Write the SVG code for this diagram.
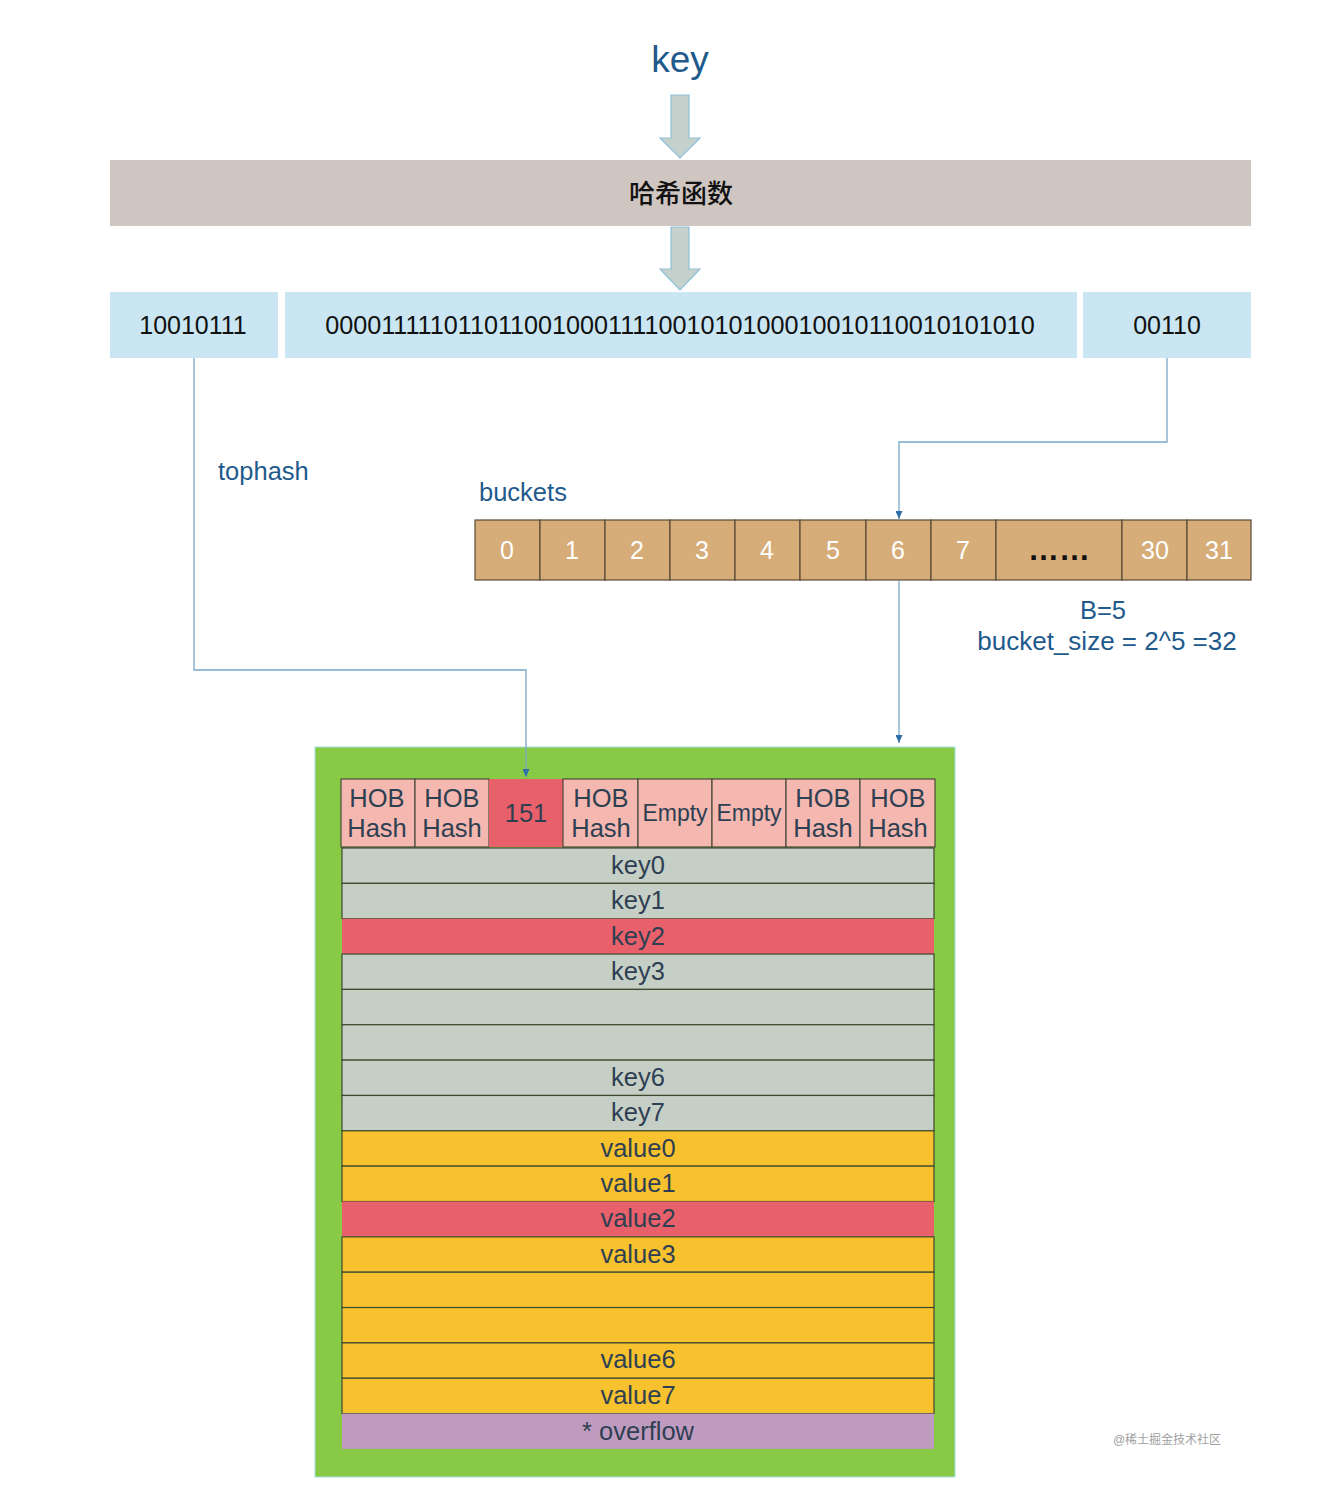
<svg xmlns="http://www.w3.org/2000/svg" width="1326" height="1508" viewBox="0 0 1326 1508">
<style>
text{font-family:"Liberation Sans",Arial,sans-serif;}
.t{font-size:25.5px;text-anchor:middle;fill:#2f3f52;}
.blk{font-size:25px;text-anchor:middle;fill:#111;}
.wh{font-size:25px;text-anchor:middle;fill:#fff;}
.lbl{font-size:25.5px;fill:#1f5a8c;}
.bin{fill:#c9e6f2;}
.bk{fill:#d6ad78;stroke:#5a4a38;stroke-width:1.2;}
.hob{fill:#f4b8b0;stroke:#4a4a3a;stroke-width:1.2;}
.row{stroke:#3d4a30;stroke-width:1.2;}
.grey{fill:#c5cfc6;}
.yel{fill:#f7c22d;}
.red{fill:#e8606a;}
.con{fill:none;stroke:#7aa8c8;stroke-width:1.3;}
.barr{fill:#c5d1cc;stroke:#8dc0d8;stroke-width:1.2;}
</style>
<defs>
<marker id="tri" markerWidth="8" markerHeight="7" refX="8" refY="3.5" orient="auto" markerUnits="userSpaceOnUse"><path d="M0,0 L8,3.5 L0,7 Z" fill="#2f6fa5"/></marker>
</defs>
<rect width="1326" height="1508" fill="#fff"/>

<g id="key-label"><text x="680" y="72" style="font-size:37px;text-anchor:middle;fill:#1f5a8c;">key</text></g>

<g id="arrow1"><path class="barr" d="M671,95 L689,95 L689,138 L700,138 L680,158 L660,138 L671,138 Z"/></g>

<g id="hash-func"><rect x="110" y="160" width="1141" height="66" fill="#cfc6c1"/><text class="blk" x="681" y="203" style="font-size:26px;font-family:'Noto Sans CJK SC',sans-serif;font-weight:500;">哈希函数</text></g>

<g id="arrow2"><path class="barr" d="M671,227 L689,227 L689,269 L700,269 L680,290 L660,269 L671,269 Z"/></g>

<g id="bin-top"><rect class="bin" x="110" y="292" width="168" height="66"/><text class="blk" x="193" y="334">10010111</text></g>
<g id="bin-mid"><rect class="bin" x="285" y="292" width="792" height="66"/><text class="blk" x="680" y="334" style="font-size:25.2px">0000111110110110010001111001010100010010110010101010</text></g>
<g id="bin-low"><rect class="bin" x="1083" y="292" width="168" height="66"/><text class="blk" x="1167" y="334">00110</text></g>

<g id="tophash-label"><text class="lbl" x="218" y="480">tophash</text></g>
<g id="buckets-label"><text class="lbl" x="479" y="501">buckets</text></g>
<g id="b-label"><text class="lbl" x="1103" y="619" text-anchor="middle">B=5</text><text class="lbl" x="1107" y="650" text-anchor="middle" style="font-size:26px">bucket_size = 2^5 =32</text></g>

<g id="buckets">
<rect class="bk" x="475" y="520" width="65" height="60"/><text class="wh" x="507" y="559">0</text>
<rect class="bk" x="540" y="520" width="65" height="60"/><text class="wh" x="572" y="559">1</text>
<rect class="bk" x="605" y="520" width="65" height="60"/><text class="wh" x="637" y="559">2</text>
<rect class="bk" x="670" y="520" width="65" height="60"/><text class="wh" x="702" y="559">3</text>
<rect class="bk" x="735" y="520" width="65" height="60"/><text class="wh" x="767" y="559">4</text>
<rect class="bk" x="800" y="520" width="66" height="60"/><text class="wh" x="833" y="559">5</text>
<rect class="bk" x="866" y="520" width="65" height="60"/><text class="wh" x="898" y="559">6</text>
<rect class="bk" x="931" y="520" width="65" height="60"/><text class="wh" x="963" y="559">7</text>
<rect class="bk" x="996" y="520" width="126" height="60"/><text class="blk" x="1059" y="560" style="font-size:31px;font-weight:bold;">……</text>
<rect class="bk" x="1122" y="520" width="65" height="60"/><text class="wh" x="1155" y="559">30</text>
<rect class="bk" x="1187" y="520" width="64" height="60"/><text class="wh" x="1219" y="559">31</text>
</g>

<g id="bucket-struct">
<rect x="315" y="747" width="640" height="730" fill="#88c946" stroke="#9fe0e8" stroke-width="1"/>
<g id="tophash-row">
<rect class="hob" x="341" y="779" width="74" height="68"/><text class="t" x="377" y="807">HOB</text><text class="t" x="377" y="837">Hash</text>
<rect class="hob" x="415" y="779" width="74" height="68"/><text class="t" x="452" y="807">HOB</text><text class="t" x="452" y="837">Hash</text>
<rect x="489" y="779" width="74" height="68" fill="#e8606a"/><text class="t" x="526" y="822">151</text>
<rect class="hob" x="563" y="779" width="75" height="68"/><text class="t" x="601" y="807">HOB</text><text class="t" x="601" y="837">Hash</text>
<rect class="hob" x="638" y="779" width="74" height="68"/><text class="t" x="675" y="821" style="font-size:23px">Empty</text>
<rect class="hob" x="712" y="779" width="74" height="68"/><text class="t" x="749" y="821" style="font-size:23px">Empty</text>
<rect class="hob" x="786" y="779" width="74" height="68"/><text class="t" x="823" y="807">HOB</text><text class="t" x="823" y="837">Hash</text>
<rect class="hob" x="860" y="779" width="75" height="68"/><text class="t" x="898" y="807">HOB</text><text class="t" x="898" y="837">Hash</text>
</g>
<g id="rows">
<rect class="row grey" x="342" y="848" width="592" height="35.35"/><text class="t" x="638" y="874">key0</text>
<rect class="row grey" x="342" y="883.35" width="592" height="35.35"/><text class="t" x="638" y="909">key1</text>
<rect class="red" x="342" y="918.7" width="592" height="35.35"/><text class="t" x="638" y="945">key2</text>
<rect class="row grey" x="342" y="954.05" width="592" height="35.35"/><text class="t" x="638" y="980">key3</text>
<rect class="row grey" x="342" y="989.4" width="592" height="35.35"/>
<rect class="row grey" x="342" y="1024.75" width="592" height="35.35"/>
<rect class="row grey" x="342" y="1060.1" width="592" height="35.35"/><text class="t" x="638" y="1086">key6</text>
<rect class="row grey" x="342" y="1095.45" width="592" height="35.35"/><text class="t" x="638" y="1121">key7</text>
<rect class="row yel" x="342" y="1130.8" width="592" height="35.35"/><text class="t" x="638" y="1157">value0</text>
<rect class="row yel" x="342" y="1166.15" width="592" height="35.35"/><text class="t" x="638" y="1192">value1</text>
<rect class="red" x="342" y="1201.5" width="592" height="35.35"/><text class="t" x="638" y="1227">value2</text>
<rect class="row yel" x="342" y="1236.85" width="592" height="35.35"/><text class="t" x="638" y="1263">value3</text>
<rect class="row yel" x="342" y="1272.2" width="592" height="35.35"/>
<rect class="row yel" x="342" y="1307.55" width="592" height="35.35"/>
<rect class="row yel" x="342" y="1342.9" width="592" height="35.35"/><text class="t" x="638" y="1368">value6</text>
<rect class="row yel" x="342" y="1378.25" width="592" height="35.35"/><text class="t" x="638" y="1404">value7</text>
<rect x="342" y="1413.6" width="592" height="35.35" fill="#bf9bbf"/><text class="t" x="638" y="1440">* overflow</text>
</g>
</g>

<g id="connectors">
<polyline class="con" points="194,358 194,670 526,670 526,777" marker-end="url(#tri)"/>
<polyline class="con" points="1167,358 1167,442 899,442 899,519" marker-end="url(#tri)"/>
<polyline class="con" points="899,581 899,743" marker-end="url(#tri)"/>
</g>

<g id="watermark"><text x="1167" y="1444" style="font-size:12px;text-anchor:middle;fill:#a0a0a0;font-family:'Liberation Sans','Noto Sans CJK SC',sans-serif;">@稀土掘金技术社区</text></g>
</svg>
